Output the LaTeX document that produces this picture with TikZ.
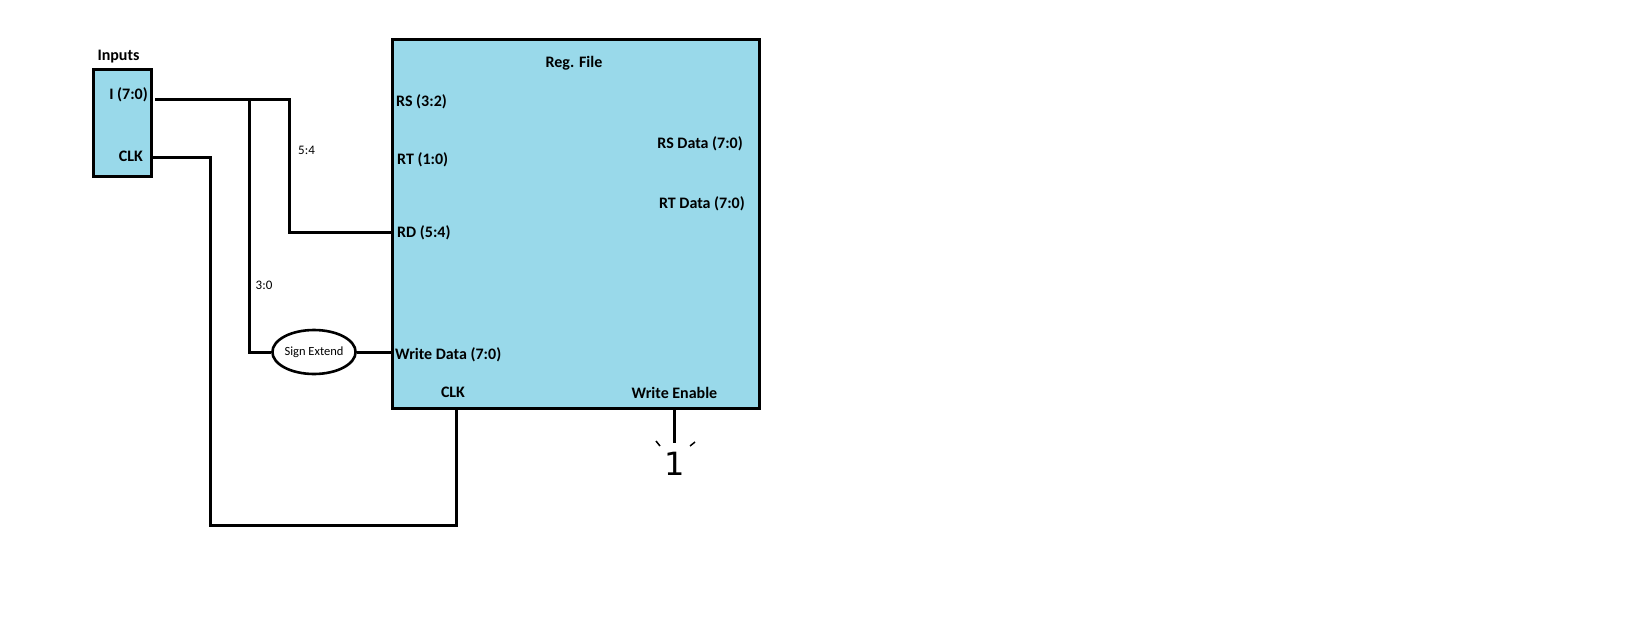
\documentclass[tikz,border=0pt]{standalone}
\usepackage{fontspec}
\setmainfont{Carlito}
\newfontfamily\digitfont{DejaVu Sans}
\usetikzlibrary{shapes.geometric}
\definecolor{regblue}{RGB}{153,217,234}

\begin{document}
\begin{tikzpicture}[x=1pt, y=-1pt,
  blk/.style={draw, line width=3pt, fill=regblue, inner sep=0pt},
  wire/.style={line width=3pt},
  lbl/.style={font=\fontsize{16}{19}\selectfont\bfseries, inner sep=0pt, yshift=-2.5pt},
  bus/.style={font=\fontsize{13}{15}\selectfont, inner sep=0pt}
]
\useasboundingbox (0,0) rectangle (1630,640);

% inputs block
\node[blk, minimum width=57.7, minimum height=106.7] (inp) at (122.2,122.7) {};
\node[lbl] (inlbl) at (118.5,54) {Inputs};
\node[lbl, anchor=mid east] (iin) at (148,94.5) {I (7:0)};
\node[lbl, anchor=mid east] (clkin) at (143,157) {CLK};

% register file
\node[blk, minimum width=367, minimum height=368.8] (reg) at (575.5,223.9) {};
\node[lbl] (title) at (574,61) {Reg. File};
\node[lbl, anchor=mid west] (rs) at (396,102) {RS (3:2)};
\node[lbl, anchor=mid west] (rt) at (397,160) {RT (1:0)};
\node[lbl, anchor=mid west] (rd) at (397,233) {RD (5:4)};
\node[lbl, anchor=mid west] (wd) at (395,355) {Write Data (7:0)};
\node[lbl, anchor=mid east] (rsd) at (743,143.5) {RS Data (7:0)};
\node[lbl, anchor=mid east] (rtd) at (745,203.5) {RT Data (7:0)};
\node[lbl] (clkr) at (453,390) {CLK};
\node[lbl] (we) at (674.5,390) {Write Enable};

% sign extend
\node[draw, ellipse, line width=2.6pt, fill=white, minimum width=80, minimum height=44,
  inner sep=0pt, font=\fontsize{12.5}{14}\selectfont] (se) at (314,352) {Sign Extend};

% wire points
\coordinate (ip) at (155,99.5);
\coordinate (br) at (249.7,99.5);
\coordinate (tn) at (289.7,99.5);
\coordinate (cp) at (151,157);
\coordinate (cbend) at (210.5,525);
\coordinate (clkport) at (456.7,408.3);
\coordinate (weport) at (674.3,408.3);
\coordinate (weend) at (674.3,443);

\draw[wire] (ip) -- (tn) |- (reg.west |- 0,232.5);
\draw[wire] (br) |- (se.west);
\draw[wire] (se.east) -- (se.east -| reg.west);
\draw[wire] (cp) -| (cbend) -| (clkport);
\draw[wire] (weport) -- (weend);

\node[bus] (b54) at (306.5,150) {5:4};
\node[bus] (b30) at (264,285) {3:0};

% constant one
\node[font=\digitfont\fontsize{32}{36}\selectfont, inner sep=0pt] (one) at (675,464) {1};
\draw[line width=1.5pt] (656,441) -- (660,446);
\draw[line width=1.5pt] (690,446) -- (695,442);
\end{tikzpicture}
\end{document}
